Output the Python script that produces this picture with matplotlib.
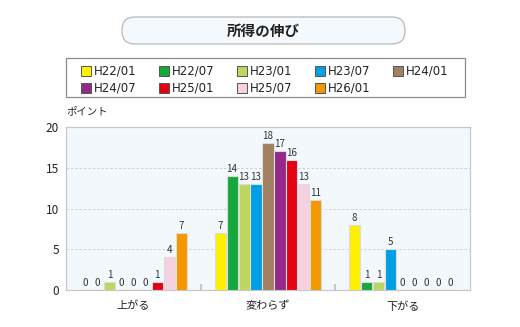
import numpy as np
import matplotlib.pyplot as plt
from matplotlib.patches import FancyBboxPatch, Rectangle
from matplotlib.transforms import IdentityTransform

plt.rcParams['font.family'] = ['Noto Sans CJK JP', 'DejaVu Sans']

W, H = 520, 327

categories = ['上がる', '変わらず', '下がる']
series = ['H22/01', 'H22/07', 'H23/01', 'H23/07', 'H24/01',
          'H24/07', 'H25/01', 'H25/07', 'H26/01']
colors = ['#fff000', '#17a83b', '#bdd660', '#009fe5', '#a08263',
          '#93298b', '#e60013', '#f8d1e1', '#f39800']
values = [
    [0, 7, 8],    # H22/01
    [0, 14, 1],   # H22/07
    [1, 13, 1],   # H23/01
    [0, 13, 5],   # H23/07
    [0, 18, 0],   # H24/01
    [0, 17, 0],   # H24/07
    [1, 16, 0],   # H25/01
    [4, 13, 0],   # H25/07
    [7, 11, 0],   # H26/01
]

fig = plt.figure(figsize=(W / 100, H / 100), dpi=100)
fig.patch.set_facecolor('white')

def px(x, y):
    # top-left pixel coords -> display coords
    return x, H - y

# title box
x0, y0 = px(122, 44)
fig.add_artist(FancyBboxPatch((x0, y0), 283, 27, transform=IdentityTransform(),
                              boxstyle='round,pad=0,rounding_size=13',
                              facecolor='#f3f9fd', edgecolor='#b8b8b8', lw=0.9))
fig.text(263 / W, 1 - 31 / H, '所得の伸び', ha='center', va='center',
         fontsize=10.5, fontweight='bold', color='#222222')

# legend box
lx, ly = px(66, 97)
fig.add_artist(Rectangle((lx, ly), 399, 39, transform=IdentityTransform(),
                         facecolor='white', edgecolor='#8c8c8c', lw=0.9))
for i, (name, c) in enumerate(zip(series, colors)):
    col, row = i % 5, i // 5
    sx = 81 + col * 78
    sy = 71 + row * 17
    bx, by = px(sx, sy + 5)
    fig.add_artist(Rectangle((bx, by), 10, 10, transform=IdentityTransform(),
                             facecolor=c, edgecolor='#555555', lw=0.7))
    fig.text((sx + 13) / W, 1 - sy / H, name, ha='left', va='center',
             fontsize=8.5, color='#222222', family='DejaVu Sans')

# plot area
ax = fig.add_axes([66 / W, (H - 290) / H, 404 / W, 163 / H])
ax.set_facecolor('#f2f8fc')
for s in ax.spines.values():
    s.set_color('#c8c8c8')
    s.set_linewidth(0.9)

x = np.arange(len(categories))
step = 0.089
width = 0.082
for i, (name, c) in enumerate(zip(series, colors)):
    pos = x + (i - 4) * step
    bars = ax.bar(pos, values[i], width, color=c, edgecolor='#dcdcdc',
                  linewidth=0.8, zorder=3)
    for b, v in zip(bars, values[i]):
        ax.text(b.get_x() + b.get_width() / 2, v + 0.25, str(v),
                ha='center', va='bottom', fontsize=7, color='#333333',
                zorder=4)

ax.set_xlim(-0.5, 2.5)
ax.set_ylim(0, 20)
ax.set_yticks([0, 5, 10, 15, 20])
ax.yaxis.grid(True, linestyle=(0, (2.5, 2)), color='#cfcfcf', linewidth=0.7,
              zorder=0)
ax.tick_params(axis='y', length=0, labelsize=8.5, pad=5, labelcolor='#222222')
ax.set_xticks(x)
ax.set_xticklabels(categories)
ax.set_xticks([0.5, 1.5], minor=True)
ax.tick_params(axis='x', which='major', length=0, labelsize=8, pad=8,
               labelcolor='#222222')
ax.tick_params(axis='x', which='minor', length=4, direction='in',
               color='#c8c8c8', width=1.5)

fig.text(66 / W, 1 - 111 / H, 'ポイント', ha='left', va='center',
         fontsize=7.5, color='#222222')

fig.savefig('out.png', dpi=100)
